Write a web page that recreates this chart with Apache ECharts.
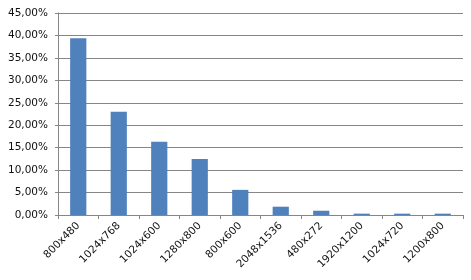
<!DOCTYPE html>
<html><head><meta charset="utf-8">
<script src="https://cdn.jsdelivr.net/npm/echarts@6/dist/echarts.min.js"></script>
<style>html,body{margin:0;padding:0;background:#fff}#c{width:471px;height:280px}</style>
</head><body><div id="c"></div>
<script>
const categories = ['800x480','1024x768','1024x600','1280x800','800x600','2048x1536','480x272','1920x1200','1024x720','1200x800'];
const shares = [39.4, 23.0, 16.3, 12.5, 5.6, 1.85, 0.95, 0.3, 0.3, 0.3];
const yMin = 0, yMax = 45, yStep = 5;

const chart = echarts.init(document.getElementById('c'), null, {renderer:'canvas'});
const font = 'Verdana, "DejaVu Sans", sans-serif';
chart.setOption({
  animation:false,
  grid:{left:58,right:8,top:13,bottom:65,containLabel:false},
  xAxis:{
    type:'category', data:categories,
    axisLine:{lineStyle:{color:'#868686',width:1}},
    axisTick:{show:true,length:4,lineStyle:{color:'#868686'}},
    axisLabel:{rotate:45,interval:0,color:'#111',fontFamily:font,fontSize:10.5,margin:9}
  },
  yAxis:{
    type:'value', min:yMin, max:yMax, interval:yStep,
    axisLine:{show:true,lineStyle:{color:'#868686'}},
    axisTick:{show:true,length:3,lineStyle:{color:'#868686'}},
    splitLine:{lineStyle:{color:'#868686',width:1}},
    axisLabel:{color:'#111',fontFamily:font,fontSize:10.5,margin:10,
      formatter:v=>v.toFixed(2).replace('.',',')+'%'}
  },
  series:[{type:'bar',data:shares,barWidth:'40%',itemStyle:{color:'#4F81BD'}}]
});
</script></body></html>
